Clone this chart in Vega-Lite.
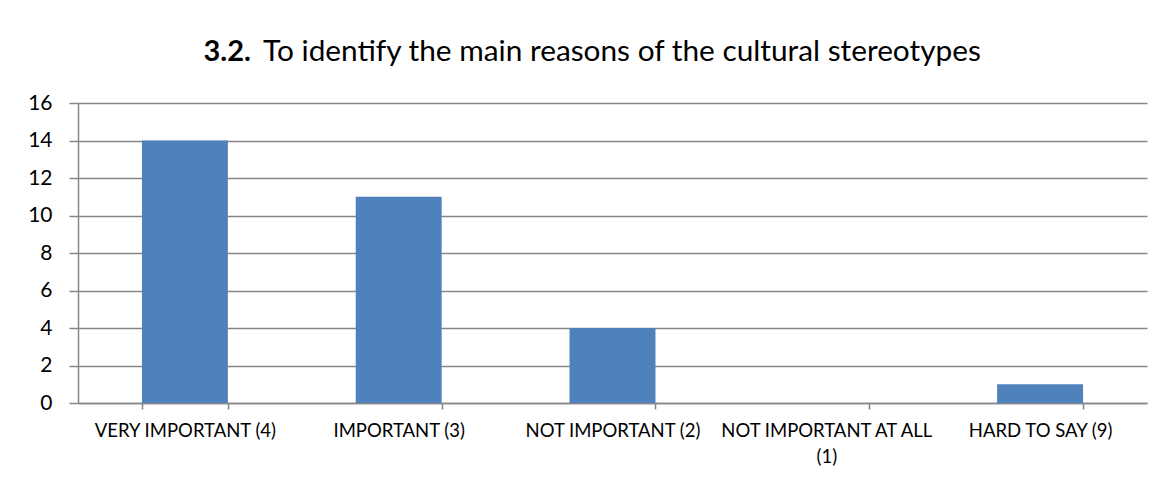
{
  "$schema": "https://vega.github.io/schema/vega-lite/v6.json",
  "autosize": "none",
  "width": 1069,
  "height": 300,
  "padding": {"left": 78, "top": 103, "right": 24, "bottom": 76},
  "background": "white",
  "config": {"view": {"stroke": null}, "font": "Lato"},
  "title": {
    "text": "To identify the main reasons of the cultural stereotypes",
    "anchor": "start",
    "frame": "group",
    "dx": 185,
    "dy": 54,
    "fontSize": 29.8,
    "font": "Lato",
    "fontWeight": "normal",
    "color": "#000000",
    "baseline": "alphabetic",
    "offset": 0
  },
  "data": {
    "values": [
      {"category": "VERY IMPORTANT (4)", "count": 14},
      {"category": "IMPORTANT (3)", "count": 11},
      {"category": "NOT IMPORTANT (2)", "count": 4},
      {"category": "NOT IMPORTANT AT ALL (1)", "count": 0},
      {"category": "HARD TO SAY (9)", "count": 1}
    ]
  },
  "mark": {"type": "bar", "color": "#4F81BD"},
  "encoding": {
    "x": {
      "field": "category",
      "type": "nominal",
      "sort": null,
      "scale": {"paddingInner": 0.598, "paddingOuter": 0.299},
      "axis": {
        "title": null,
        "labelAngle": 0,
        "labelFont": "Lato",
        "labelFontSize": 18.5,
        "labelColor": "#000000",
        "labelPadding": 12,
        "labelLineHeight": 26,
        "labelLimit": 0,
        "labelExpr": "datum.label == 'NOT IMPORTANT AT ALL (1)' ? ['NOT IMPORTANT AT ALL', '(1)'] : datum.label",
        "domainColor": "#868686",
        "domainWidth": 1.5,
        "ticks": true,
        "tickBand": "extent",
        "tickSize": 6,
        "tickColor": "#868686",
        "tickWidth": 1.5,
        "grid": false
      }
    },
    "y": {
      "field": "count",
      "type": "quantitative",
      "scale": {"domain": [0, 16], "nice": false},
      "axis": {
        "values": [0, 2, 4, 6, 8, 10, 12, 14, 16],
        "title": "3.2.",
        "titleAngle": 0,
        "titleX": 125,
        "titleY": -43,
        "titleAlign": "left",
        "titleBaseline": "alphabetic",
        "titleFont": "Lato",
        "titleFontSize": 29,
        "titleFontWeight": "bold",
        "titleColor": "#000000",
        "labelFont": "Lato",
        "labelFontSize": 21,
        "labelColor": "#000000",
        "labelPadding": 17,
        "tickSize": 9,
        "tickColor": "#868686",
        "tickWidth": 1.5,
        "domainColor": "#868686",
        "domainWidth": 1.5,
        "grid": true,
        "gridColor": "#868686",
        "gridWidth": 1.5
      }
    }
  }
}
